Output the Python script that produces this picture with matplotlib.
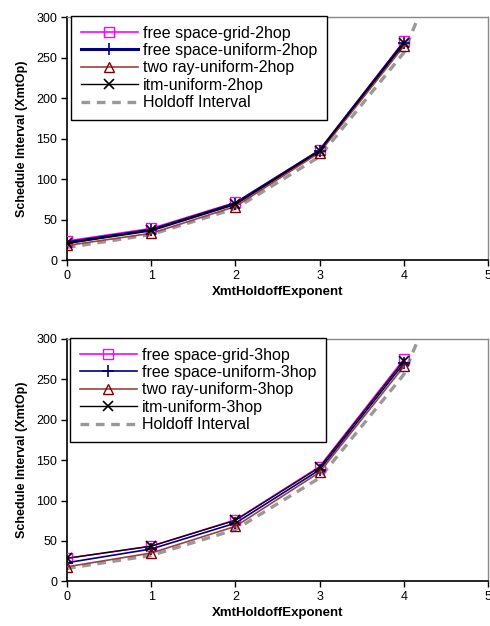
import matplotlib
matplotlib.use("Agg")
import matplotlib.pyplot as plt

plt.rcParams['font.family'] = ['Liberation Sans', 'DejaVu Sans']

x = [0, 1, 2, 3, 4]
x_holdoff = [0, 1, 2, 3, 4, 5]
holdoff = [16, 32, 64, 128, 256, 512]

# 2-hop panel
grid_2hop = [24, 39.5, 71.5, 136, 270]
uniform_2hop = [22, 37.5, 70, 135, 268]
tworay_2hop = [18.5, 33.5, 66.5, 133, 264]
itm_2hop = [21, 37.5, 70, 135, 267.5]

# 3-hop panel
grid_3hop = [28.5, 43.5, 76, 142, 275]
uniform_3hop = [23, 40, 72, 138, 270]
tworay_3hop = [18, 35, 68, 135, 266]
itm_3hop = [28.5, 43.5, 75.5, 141, 273]

labels_2hop = ["free space-grid-2hop", "free space-uniform-2hop",
               "two ray-uniform-2hop", "itm-uniform-2hop", "Holdoff Interval"]
labels_3hop = ["free space-grid-3hop", "free space-uniform-3hop",
               "two ray-uniform-3hop", "itm-uniform-3hop", "Holdoff Interval"]

xticks = [0, 1, 2, 3, 4, 5]
yticks = [0, 50, 100, 150, 200, 250, 300]
xlabel = "XmtHoldoffExponent"
ylabel = "Schedule Interval (XmtOp)"

W, H = 490, 626
fig = plt.figure(figsize=(W / 100, H / 100), dpi=100)


def panel(rect, grid, uni, tr, itm, labels, uni_lw, leg_xy):
    ax = fig.add_axes(rect)
    ax.plot(x, grid, color='#FF00FF', lw=1.2, marker='s', ms=6.5,
            mfc='none', mec='#FF00FF', mew=1.0, label=labels[0], zorder=3)
    ax.plot(x, uni, color='#000080', lw=uni_lw, marker='+', ms=8.5,
            mec='#000080', mew=1.2, label=labels[1], zorder=4)
    ax.plot(x, tr, color='#A0403C', lw=1.2, marker='^', ms=6.5,
            mfc='none', mec='#800000', mew=1.0, label=labels[2], zorder=5)
    ax.plot(x, itm, color='#000000', lw=1.0, marker='x', ms=6.5,
            mec='#000000', mew=1.2, label=labels[3], zorder=6)
    ax.plot(x_holdoff, holdoff, color='#999999', lw=2.4, ls=(0, (2.6, 2.0)),
            label=labels[4], zorder=2)
    ax.set_xlim(0, 5)
    ax.set_ylim(0, 300)
    ax.set_xticks(xticks)
    ax.set_yticks(yticks)
    ax.tick_params(direction='out', length=4, width=1, labelsize=9,
                   colors='black', pad=3)
    for s in ('left', 'bottom'):
        ax.spines[s].set_color('black')
        ax.spines[s].set_linewidth(1.2)
    for s in ('top', 'right'):
        ax.spines[s].set_color('#888888')
        ax.spines[s].set_linewidth(1.0)
    ax.set_xlabel(xlabel, fontsize=9.5, fontweight='bold', labelpad=3)
    ax.set_ylabel(ylabel, fontsize=9, fontweight='bold', labelpad=6)
    leg = ax.legend(loc='upper left', bbox_to_anchor=leg_xy,
                    bbox_transform=fig.transFigure, borderaxespad=0,
                    fontsize=11.5, handlelength=3.6, handletextpad=0.3,
                    labelspacing=0.15, borderpad=0.6, fancybox=False,
                    framealpha=1, edgecolor='black')
    leg.get_frame().set_linewidth(1.0)
    return ax


panel([67 / W, 1 - 260.5 / H, 421 / W, 243.5 / H],
      grid_2hop, uniform_2hop, tworay_2hop, itm_2hop, labels_2hop, 2.2,
      (71 / W, 1 - 16 / H))
panel([67 / W, 1 - 581.3 / H, 421 / W, 242.3 / H],
      grid_3hop, uniform_3hop, tworay_3hop, itm_3hop, labels_3hop, 1.2,
      (70 / W, 1 - 338 / H))

fig.savefig("out.png", dpi=100)
